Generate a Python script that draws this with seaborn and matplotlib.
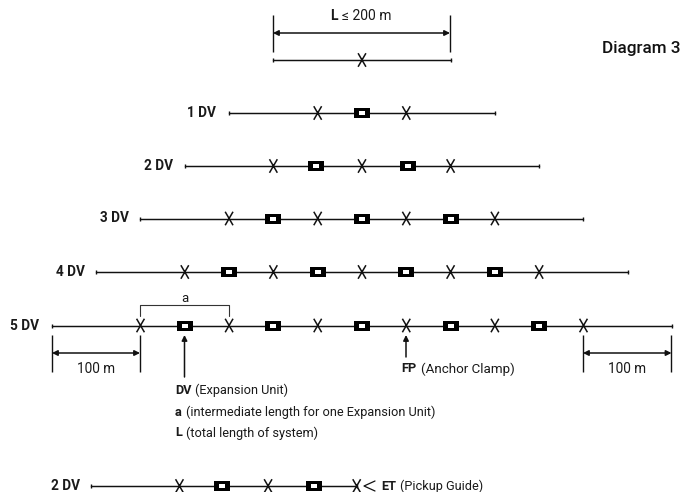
"""Expansion unit layout diagram, rows drawn in metres along the pipe."""

import numpy as np
import pandas as pd
import matplotlib.pyplot as plt
from matplotlib.path import Path
import seaborn as sns

# row name, row height on the page, ends / anchors / units in metres from centre
row_labels = ["", "1 DV", "2 DV", "3 DV", "4 DV", "5 DV", "2 DV"]
row_y = [60, 113, 166, 218.5, 272, 325.5, 486]
row_start = [-100, -150, -200, -250, -300, -350, -306]
row_end = [100, 150, 200, 250, 300, 350, -6]
row_anchors = [
    [0],
    [-50, 50],
    [-100, 0, 100],
    [-150, -50, 50, 150],
    [-200, -100, 0, 100, 200],
    [-250, -150, -50, 50, 150, 250],
    [-206, -106, -6],
]
row_units = [
    [],
    [0],
    [-52, 52],
    [-100, 0, 100],
    [-150, -50, 50, 150],
    [-200, -100, 0, 100, 200],
    [-158, -54],
]

PX_PER_M = 0.886
CENTRE_PX = 362.0


def to_m(px):
    return (px - CENTRE_PX) / PX_PER_M


sns.set_theme(style="white")
plt.rcParams["font.family"] = ["Roboto", "Liberation Sans", "DejaVu Sans"]

fig, ax = plt.subplots(figsize=(6.91, 4.92), dpi=100)
ax.set_position([0, 0, 1, 1])
ax.axis("off")

X_MARK = Path([(-0.58, -1), (0.58, 1), (-0.58, 1), (0.58, -1)],
              [Path.MOVETO, Path.LINETO, Path.MOVETO, Path.LINETO])
BOX_MARK = Path([(-1.75, -1), (1.75, -1), (1.75, 1), (-1.75, 1), (-1.75, -1)], closed=True)

INK = "#111111"
TXT = "#1a1a1a"

lines = []
for i, (y, a, b) in enumerate(zip(row_y, row_start, row_end)):
    lines.append(pd.DataFrame({"x": [a, b], "y": [y, y], "row": i}))
lines = pd.concat(lines)
sns.lineplot(data=lines, x="x", y="y", units="row", estimator=None, color=INK,
             lw=1.05, sort=False, legend=False, ax=ax, zorder=1)

# small end ticks
for y, a, b in zip(row_y, row_start, row_end):
    ax.vlines([a, b], y - 2, y + 2, color=INK, lw=1.0, zorder=1)

anchors = pd.DataFrame([(x, y) for y, xs in zip(row_y, row_anchors) for x in xs], columns=["x", "y"])
units = pd.DataFrame([(x, y) for y, xs in zip(row_y, row_units) for x in xs], columns=["x", "y"])

sns.scatterplot(data=anchors, x="x", y="y", marker=X_MARK, s=95, facecolor="none",
                edgecolor=INK, linewidth=1.1, legend=False, ax=ax, zorder=3)
sns.scatterplot(data=units, x="x", y="y", marker=BOX_MARK, s=135, color="black",
                edgecolor="black", linewidth=0, legend=False, ax=ax, zorder=3)
sns.scatterplot(data=units, x="x", y="y", marker=BOX_MARK, s=18, color="white",
                edgecolor="white", linewidth=0, legend=False, ax=ax, zorder=4)

ax.set_xlim(to_m(0), to_m(691))
ax.set_ylim(492, 0)
ax.set_xlabel("")
ax.set_ylabel("")


def label(px, y, s, bold=False, size=9.2, ha="left", color=TXT, weight=None):
    ax.text(to_m(px), y, s, ha=ha, va="center", fontsize=size, color=color,
            fontweight=weight or ("bold" if bold else "normal"))


def arrow(x0, y0, x1, y1, style="-|>"):
    ax.annotate("", xy=(to_m(x1), y1), xytext=(to_m(x0), y0),
                arrowprops=dict(arrowstyle=style, color=INK, lw=1.1, shrinkA=0, shrinkB=0,
                                mutation_scale=8))


# row labels
label_right = [None, 216, 173, 129, 85, 39, 80]
for name, y, right in zip(row_labels, row_y, label_right):
    if name:
        label(right, y, name, bold=True, ha="right", size=9.8)

# top dimension
ax.vlines(to_m(np.array([273, 450])), 15, 52, color=INK, lw=1.0)
arrow(273, 33, 450, 33, "<|-|>")
label(330, 16, "L", bold=True, size=10)
label(342, 16, "≤ 200 m", size=10)
label(680, 48, "Diagram 3", size=12.3, ha="right", color="#111111", weight="medium")

# a bracket
ax.plot(to_m(np.array([140.5, 140.5, 229, 229])), [316, 305, 305, 316], color="#333333", lw=0.8)
label(185, 299, "a", ha="center", size=9.5)

# 100 m dimensions
ax.vlines(to_m(np.array([52, 140])), 335, 372, color=INK, lw=1.0)
ax.vlines(to_m(np.array([583, 671.5])), 335, 372, color=INK, lw=1.0)
arrow(52, 353, 140, 353, "<|-|>")
arrow(583, 353, 671.5, 353, "<|-|>")
label(96, 369, "100 m", ha="center", size=9.8)
label(627.5, 369, "100 m", ha="center", size=9.8)

# pointers
arrow(184.5, 377, 184.5, 335)
arrow(406, 357, 406, 335)

label(175, 390, "DV", bold=True)
label(195, 390, "(Expansion Unit)")
label(175, 412, "a", bold=True)
label(186, 412, "(intermediate length for one Expansion Unit)")
label(175, 433, "L", bold=True)
label(186, 433, "(total length of system)")
label(401.5, 369, "FP", bold=True)
label(421, 369, "(Anchor Clamp)", size=9.6)
label(381, 486, "ET", bold=True)
label(400, 486, "(Pickup Guide)")

# pickup guide chevron
ax.plot(to_m(np.array([375, 364, 375])), [481, 486, 491], color=INK, lw=0.9)

fig.savefig("out.png", dpi=100)
plt.close(fig)
